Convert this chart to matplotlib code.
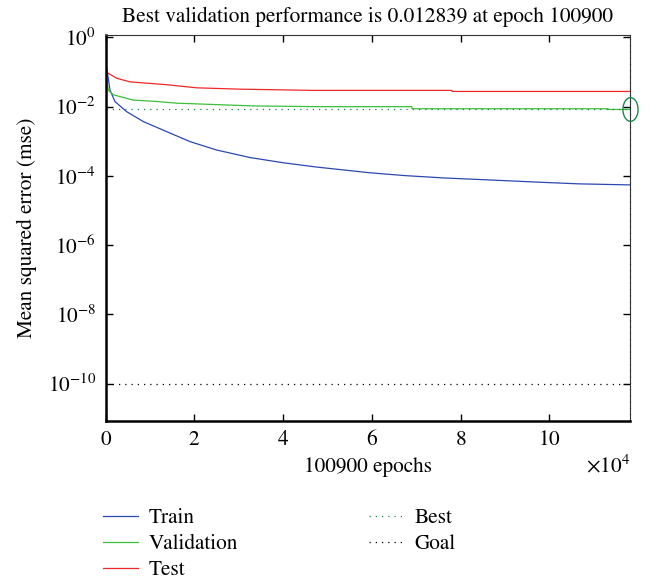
import numpy as np
import matplotlib
matplotlib.use("Agg")
import matplotlib.pyplot as plt
from matplotlib.path import Path

plt.rcParams['font.family'] = ['STIXGeneral', 'DejaVu Serif']
plt.rcParams['mathtext.fontset'] = 'stix'

# ---- data ----
train_epochs = [0, 970, 2100, 4700, 8500, 13750, 19000, 25000, 32500, 40000,
                47600, 59600, 67500, 76500, 87000, 97500, 106600, 118200]
train_mse = [0.21, 0.030, 0.014, 0.0072, 0.0037, 0.0019, 0.00098, 0.00056,
             0.00034, 0.00024, 0.00018, 0.000123, 0.000102, 0.000087,
             0.000076, 0.000066, 0.000059, 0.000055]

val_epochs = [0, 225, 590, 1710, 6200, 11500, 16000, 33250, 47600, 69000,
              69100, 113300, 113400, 118200]
val_mse = [0.145, 0.059, 0.030, 0.022, 0.0155, 0.0141, 0.0126, 0.0105,
           0.0100, 0.0100, 0.0087, 0.0087, 0.0083, 0.0083]

test_epochs = [0, 2500, 5500, 13750, 20500, 30300, 46700, 78000, 78100, 118200]
test_mse = [0.102, 0.066, 0.052, 0.043, 0.035, 0.032, 0.0295, 0.0295,
            0.0275, 0.0275]

best_epoch = 118200
best_perf = 0.0083
goal = 1e-10
max_epoch = 118200

title_text = "Best validation performance is 0.012839 at epoch 100900"
xlabel_text = "100900 epochs"
ylabel_text = "Mean squared error (mse)"
xticks = [0, 20000, 40000, 60000, 80000, 100000]
yticks = [1e0, 1e-2, 1e-4, 1e-6, 1e-8, 1e-10]

FS = 15.3

# ---- figure ----
fig = plt.figure(figsize=(6.5, 5.82), dpi=100)
ax = fig.add_axes([0.1626, 0.2771, 0.9692 - 0.1626, 0.9399 - 0.2771])

c_train = '#2b48b0'
c_val = '#3cbf3c'
c_test = '#f02828'
c_best = '#1a8a4a'

l_train, = ax.plot(train_epochs, train_mse, color=c_train, lw=0.9, label='Train')
l_val, = ax.plot(val_epochs, val_mse, color=c_val, lw=0.9, label='Validation')
l_test, = ax.plot(test_epochs, test_mse, color=c_test, lw=0.9, label='Test')

ax.set_yscale('log')
ax.set_xlim(0, max_epoch)
ylo, yhi = 10 ** -11.07, 10 ** 0.07
ax.set_ylim(ylo, yhi)

# best lines
l_best, = ax.plot([0, max_epoch], [best_perf, best_perf], color=c_best, lw=0.9,
                  ls=(0, (1, 4)), label='Best')
ax.plot([best_epoch, best_epoch], [ylo, yhi], color=c_best,
        lw=0.9, ls=(0, (1, 4)), clip_on=False)
theta = np.linspace(0, 2 * np.pi, 60)
ell = Path(np.column_stack([np.cos(theta) * 0.64, np.sin(theta)]))
ax.plot([best_epoch], [best_perf], marker=ell, ms=17, mfc='none', mec=c_best,
        mew=1.0, clip_on=False, zorder=5)
# goal line
l_goal, = ax.plot([0, max_epoch], [goal, goal], color='black', lw=0.9,
                  ls=(0, (1, 4)), label='Goal')

ax.set_xticks(xticks)
ax.set_yticks(yticks)
ax.yaxis.set_minor_locator(matplotlib.ticker.NullLocator())
ax.ticklabel_format(style='sci', axis='x', scilimits=(4, 4), useMathText=True)
ax.tick_params(direction='in', length=5, width=1, top=True, right=True,
               labelsize=FS, pad=7, colors='black')

for s in ['left', 'bottom']:
    ax.spines[s].set_linewidth(1.8)
for s in ['top', 'right']:
    ax.spines[s].set_linewidth(0.8)
    ax.spines[s].set_color('#333333')

ax.set_title(title_text, fontsize=FS, pad=9)
ax.set_xlabel(xlabel_text, fontsize=FS, labelpad=5)
ax.set_ylabel(ylabel_text, fontsize=FS, labelpad=8)
ax.xaxis.get_offset_text().set_fontsize(FS)

fig.legend(handles=[l_train, l_val, l_test, l_best, l_goal], ncol=2,
           frameon=False, fontsize=FS, loc='upper left',
           bbox_to_anchor=(0.159, 0.127), handlelength=1.65,
           columnspacing=6.15, labelspacing=0.30, handletextpad=0.5,
           borderaxespad=0, borderpad=0)

fig.savefig('out.png', dpi=100)
